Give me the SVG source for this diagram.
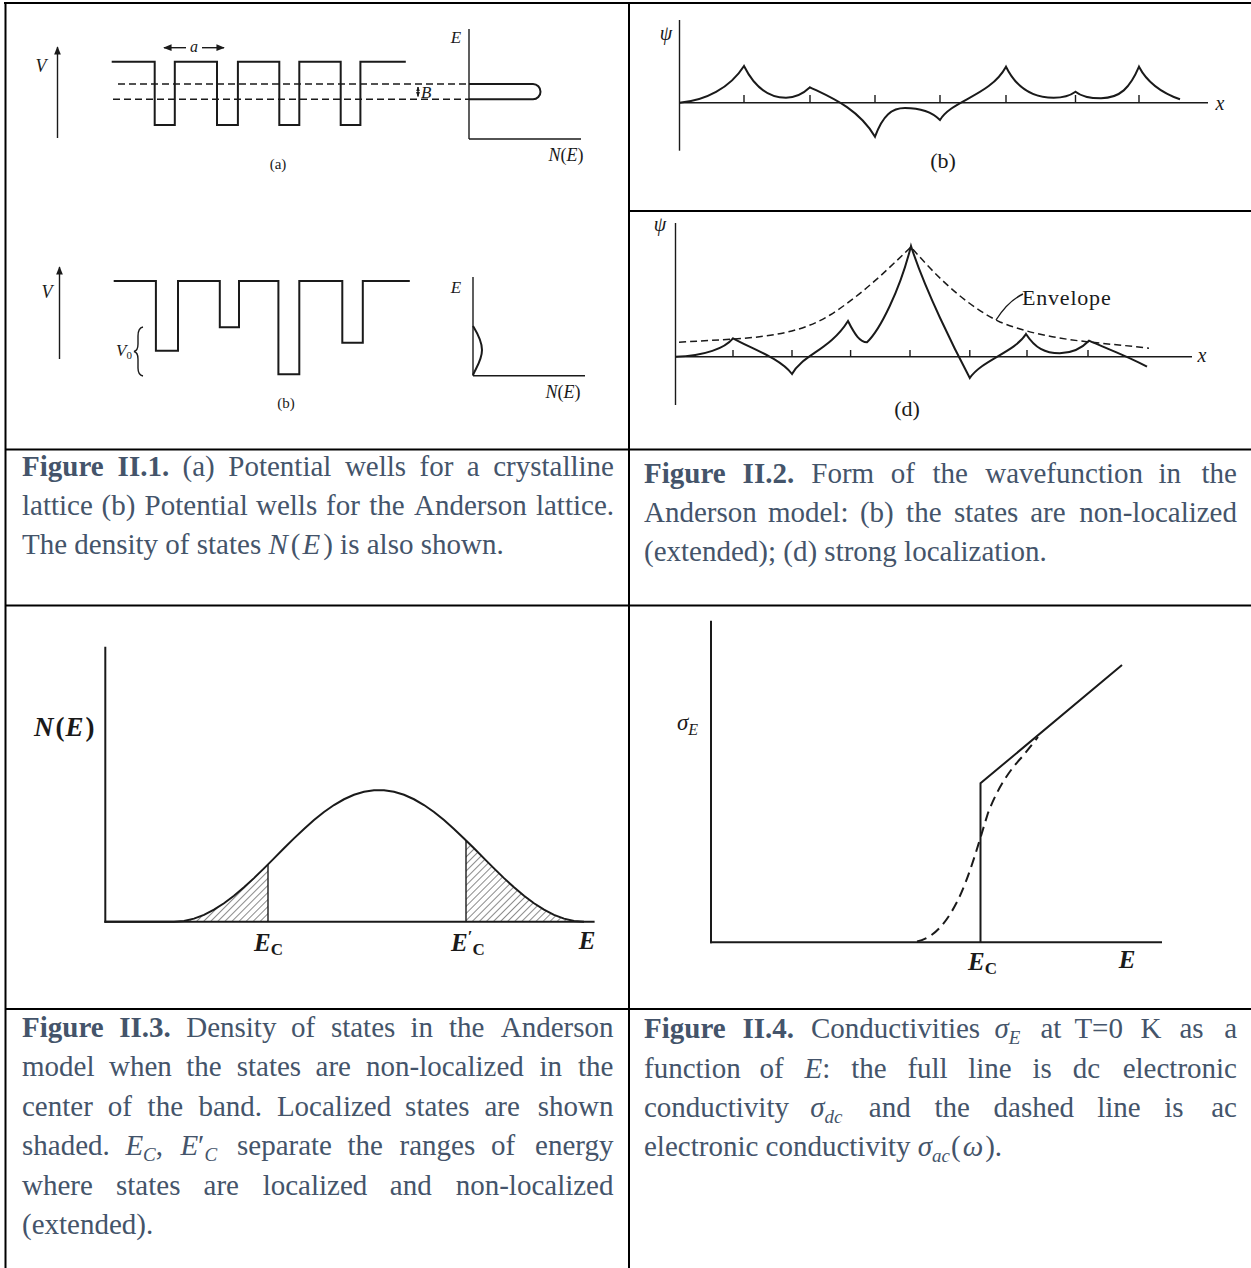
<svg xmlns="http://www.w3.org/2000/svg" width="1251" height="1268" viewBox="0 0 1251 1268">
<style>
.frame{stroke:#000;stroke-width:2;fill:none}
.ln{stroke:#1a1a1a;stroke-width:2;fill:none;stroke-linejoin:miter}
.thin{stroke:#1a1a1a;stroke-width:1.4;fill:none}
.dash{stroke:#1a1a1a;stroke-width:1.5;fill:none;stroke-dasharray:7 4}
.lbl{font-family:"Liberation Serif","Times New Roman",serif;fill:#1a1a1a}
.it{font-style:italic}
.cap{font-family:"Liberation Serif","Times New Roman",serif;font-size:29px;fill:#44546A}
.end{text-anchor:end}
.b{font-weight:bold}
.m{font-style:italic}
</style>
<defs>
<marker id="ah" viewBox="0 0 10 10" refX="9" refY="5" markerWidth="6" markerHeight="6" orient="auto"><path d="M0,1 L10,5 L0,9 z" fill="#1a1a1a"/></marker>
<marker id="ahs" viewBox="0 0 10 10" refX="9" refY="5" markerWidth="3.5" markerHeight="3.5" orient="auto-start-reverse"><path d="M0,1 L10,5 L0,9 z" fill="#1a1a1a"/></marker>
<pattern id="hatch" width="5" height="5" patternUnits="userSpaceOnUse" patternTransform="rotate(45)"><line x1="0" y1="0" x2="0" y2="5" stroke="#2a2a2a" stroke-width="1.1"/></pattern>
</defs>
<rect width="1251" height="1268" fill="#fff"/>

<g id="table-frame">
<line class="frame" x1="4" y1="3" x2="1251" y2="3"/>
<line class="frame" x1="5.5" y1="3" x2="5.5" y2="1268"/>
<line class="frame" x1="629" y1="3" x2="629" y2="1268"/>
<line class="frame" x1="629" y1="211" x2="1251" y2="211"/>
<line class="frame" x1="5" y1="449.5" x2="1251" y2="449.5"/>
<line class="frame" x1="5" y1="605.5" x2="1251" y2="605.5"/>
<line class="frame" x1="5" y1="1009" x2="1251" y2="1009"/>
</g>

<g id="fig1a">
<line class="thin" x1="57.5" y1="138" x2="57.5" y2="47" marker-end="url(#ah)"/>
<text class="lbl it" x="41" y="72" font-size="18" text-anchor="middle">V</text>
<line class="thin" x1="186" y1="47.7" x2="164" y2="47.7" marker-end="url(#ah)"/>
<line class="thin" x1="202" y1="47.7" x2="224" y2="47.7" marker-end="url(#ah)"/>
<text class="lbl it" x="194" y="52" font-size="16" text-anchor="middle">a</text>
<path class="ln" d="M111.7,61.7 H154.7 V125 H174.8 V61.7 H217 V125 H237.9 V61.7 H279.3 V125 H299.3 V61.7 H340.7 V125 H360.4 V61.7 H405.8"/>
<line class="dash" x1="118" y1="84" x2="469" y2="84"/>
<line class="dash" x1="113" y1="99.3" x2="469" y2="99.3"/>
<line class="thin" x1="418" y1="87" x2="418" y2="96.5" stroke-width="1" marker-start="url(#ahs)" marker-end="url(#ahs)"/>
<text class="lbl it" x="421" y="98" font-size="17">B</text>
<line class="thin" x1="469" y1="29" x2="469" y2="139"/>
<line class="thin" x1="469" y1="139" x2="581" y2="139"/>
<text class="lbl it" x="456" y="43" font-size="17" text-anchor="middle">E</text>
<text class="lbl" x="566" y="161" font-size="18" text-anchor="middle"><tspan class="it">N</tspan>(<tspan class="it">E</tspan>)</text>
<path class="ln" stroke-width="2.6" d="M469,84 H533 A7.5,7.65 0 0 1 533,99.3 H469"/>
<text class="lbl" x="278" y="169" font-size="15" text-anchor="middle">(a)</text>
</g>

<g id="fig1b">
<line class="thin" x1="59.5" y1="359" x2="59.5" y2="267" marker-end="url(#ah)"/>
<text class="lbl it" x="47" y="298" font-size="18" text-anchor="middle">V</text>
<path class="ln" d="M113.7,281 H155.9 V350.7 H178 V281 H219.8 V327.3 H239 V281 H278.4 V374.3 H299.3 V281 H342.3 V342.7 H362.8 V281 H409.8"/>
<text class="lbl it" x="116" y="356" font-size="17">V<tspan font-size="11" dy="3" font-style="normal">0</tspan></text>
<path class="thin" stroke-width="1.2" d="M143,327 Q138,328 138,336 L138,344 Q138,350.5 134,351.5 Q138,352.5 138,359 L138,368 Q138,375 143,376"/>
<line class="thin" x1="473" y1="277" x2="473" y2="375.7"/>
<line class="thin" x1="473" y1="375.7" x2="585" y2="375.7"/>
<text class="lbl it" x="456" y="293" font-size="17" text-anchor="middle">E</text>
<text class="lbl" x="563" y="398" font-size="18" text-anchor="middle"><tspan class="it">N</tspan>(<tspan class="it">E</tspan>)</text>
<path class="ln" d="M473,326 C476,331 482,340 482,350 C482,360 476,368 473,375"/>
<text class="lbl" x="286" y="408" font-size="15" text-anchor="middle">(b)</text>
</g>

<g id="fig2b">
<line class="thin" x1="679.5" y1="20" x2="679.5" y2="150.7"/>
<line class="thin" x1="679.5" y1="102.7" x2="1208" y2="102.7"/>
<path class="thin" d="M744,102.7 V95 M810,102.7 V95 M875,102.7 V95 M940,102.7 V95 M1006,102.7 V95 M1075.5,102.7 V95 M1139,102.7 V95"/>
<text class="lbl it" x="666" y="40" font-size="20" text-anchor="middle">ψ</text>
<text class="lbl it" x="1220" y="110" font-size="20" text-anchor="middle">x</text>
<path class="ln" stroke-width="2.4" d="M679.5,102.7 C705,101 730,88 744,66 C752,82 765,97.7 786,97.7 C796,97.7 804,93 810,87.3 C830,97 858,108 875,136.7 C883,115 892,108 905,108 C920,108 932,112 940,120 C952,100 990,96 1006,66.7 C1015,85 1030,97.7 1053.7,97.7 C1065,97.7 1071,95 1075.5,91.7 C1082,97 1092,98.3 1101,98.3 C1120,98 1130,88 1139,66.7 C1148,84 1165,94 1180,99.3"/>
<text class="lbl" x="943" y="168" font-size="22" text-anchor="middle">(b)</text>
</g>

<g id="fig2d">
<line class="thin" x1="675.5" y1="223" x2="675.5" y2="405"/>
<line class="thin" x1="675.5" y1="356.7" x2="1192" y2="356.7"/>
<path class="thin" d="M733,356.7 V350 M792,356.7 V350 M850.6,356.7 V350 M910,356.7 V350 M969.8,356.7 V350 M1027,356.7 V350 M1088,356.7 V350"/>
<text class="lbl it" x="660" y="231" font-size="20" text-anchor="middle">ψ</text>
<text class="lbl it" x="1202" y="362" font-size="20" text-anchor="middle">x</text>
<path class="dash" stroke-dasharray="8 5" d="M679,342.3 C740,338 790,340 830,315 C865,293 895,262 911,247 C935,275 965,305 1000,322 C1050,342 1100,342 1149,348.3"/>
<path class="ln" stroke-width="2.4" d="M675.5,356.7 C705,356 725,348 733,338.3 C750,348 780,358 792,374 C802,355 830,350 848,321 C855,335 860,342 867,342.3 C880,330 900,290 911,246 C925,290 955,350 969.8,378 C982,360 1015,352 1026,334 C1035,348 1045,353.3 1059.7,353.3 C1072,353 1082,348 1089,340.7 C1105,348 1125,355 1147,366.7"/>
<path class="thin" stroke-width="1.3" d="M1023,294 Q1008,301 996,320"/>
<text class="lbl" x="1022" y="305" font-size="22" letter-spacing="0.8">Envelope</text>
<text class="lbl" x="907" y="416" font-size="22" text-anchor="middle">(d)</text>
</g>

<g id="fig3">
<path fill="url(#hatch)" stroke="none" d="M174,921.7 L184,920.93 L194,918.63 L204,914.86 L214,909.71 L224,903.3 L234,895.77 L244,887.31 L254,878.12 L264,868.39 L268,864.4 L268,921.7 Z"/>
<path fill="url(#hatch)" stroke="none" d="M466,840.4 L474,848.3 L484,858.38 L494,868.39 L504,878.12 L514,887.31 L524,895.77 L534,903.3 L544,909.71 L554,914.86 L564,918.63 L574,920.93 L584,921.7 L466,921.7 Z"/>
<line class="ln" x1="105.3" y1="646.7" x2="105.3" y2="922.7"/>
<line class="ln" x1="104.3" y1="921.7" x2="594.6" y2="921.7"/>
<line class="thin" stroke-width="1.6" x1="268" y1="864.4" x2="268" y2="921.7"/>
<line class="thin" stroke-width="1.6" x1="466" y1="840.4" x2="466" y2="921.7"/>
<path class="ln" stroke-width="2.6" d="M105,921.7 L174,921.7 L184,920.93 L194,918.63 L204,914.86 L214,909.71 L224,903.3 L234,895.77 L244,887.31 L254,878.12 L264,868.39 L274,858.38 L284,848.3 L294,838.4 L304,828.91 L314,820.06 L324,812.03 L334,805.04 L344,799.26 L354,794.77 L364,791.73 L374,790.18 L384,790.18 L394,791.73 L404,794.77 L414,799.26 L424,805.04 L434,812.03 L444,820.06 L454,828.91 L464,838.4 L474,848.3 L484,858.38 L494,868.39 L504,878.12 L514,887.31 L524,895.77 L534,903.3 L544,909.71 L554,914.86 L564,918.63 L574,920.93 L584,921.7"/>
<text class="lbl b" x="34" y="736" font-size="27"><tspan class="it">N</tspan><tspan dx="2">(</tspan><tspan class="it" dx="1">E</tspan><tspan dx="2">)</tspan></text>
<text class="lbl b" x="254" y="951" font-size="25"><tspan class="it">E</tspan><tspan font-size="17" dy="4">C</tspan></text>
<text class="lbl b" x="451" y="951" font-size="25"><tspan class="it">E</tspan><tspan font-size="17" dy="-9">′</tspan><tspan font-size="17" dy="13">C</tspan></text>
<text class="lbl b it" x="587" y="949" font-size="25" text-anchor="middle">E</text>
</g>

<g id="fig4">
<line class="ln" x1="711" y1="620.7" x2="711" y2="943.3"/>
<line class="ln" x1="710" y1="942.3" x2="1162" y2="942.3"/>
<path class="ln" stroke-width="2.4" d="M980.5,942.3 V783.3 L1122,665"/>
<path class="ln" stroke-width="2.2" stroke-dasharray="10 6" d="M917,941.5 C935,938 948,920 958,900 C970,875 978,845 988,813 C995,795 1005,775 1022,757 L1038,737"/>
<text class="lbl it" x="677" y="730" font-size="23">σ<tspan font-size="16" dy="5">E</tspan></text>
<text class="lbl b" x="968" y="970" font-size="25"><tspan class="it">E</tspan><tspan font-size="17" dy="4">C</tspan></text>
<text class="lbl b it" x="1127" y="968" font-size="25" text-anchor="middle">E</text>
</g>

<g id="caption1">
<text class="cap" y="476"><tspan x="22" class="b">Figure</tspan><tspan x="117.6" class="b">II.1.</tspan><tspan x="182.6">(a)</tspan><tspan x="228.3">Potential</tspan><tspan x="344.9">wells</tspan><tspan x="419.6">for</tspan><tspan x="466.8">a</tspan></text>
<text class="cap end" x="614" y="476">crystalline</text>
<text class="cap" y="515"><tspan x="22">lattice</tspan><tspan x="101.5">(b)</tspan><tspan x="144.6">Potential</tspan><tspan x="256">wells</tspan><tspan x="326.1">for</tspan><tspan x="369.2">the</tspan><tspan x="414">Anderson</tspan></text>
<text class="cap end" x="614" y="515">lattice.</text>
<text class="cap" x="22" y="554">The density of states <tspan class="m">N</tspan><tspan dx="3">(</tspan><tspan class="m" dx="2">E</tspan><tspan dx="3">)</tspan> is also shown.</text>
</g>

<g id="caption2">
<text class="cap" y="483"><tspan x="644" class="b">Figure</tspan><tspan x="742.6" class="b">II.2.</tspan><tspan x="811.3">Form</tspan><tspan x="890.8">of</tspan><tspan x="932.5">the</tspan><tspan x="985.2">wavefunction</tspan><tspan x="1158.5">in</tspan></text>
<text class="cap end" x="1237" y="483">the</text>
<text class="cap" y="522"><tspan x="644">Anderson</tspan><tspan x="767.9">model:</tspan><tspan x="859.9">(b)</tspan><tspan x="906.1">the</tspan><tspan x="953.9">states</tspan><tspan x="1030.2">are</tspan></text>
<text class="cap end" x="1237" y="522">non-localized</text>
<text class="cap" x="644" y="561">(extended); (d) strong localization.</text>
</g>

<g id="caption3">
<text class="cap" y="1037"><tspan x="22" class="b">Figure</tspan><tspan x="119.2" class="b">II.3.</tspan><tspan x="186.2">Density</tspan><tspan x="290.9">of</tspan><tspan x="330.9">states</tspan><tspan x="410.4">in</tspan><tspan x="448.9">the</tspan></text>
<text class="cap end" x="613.5" y="1037">Anderson</text>
<text class="cap" y="1076"><tspan x="22">model</tspan><tspan x="109">when</tspan><tspan x="186.3">the</tspan><tspan x="236.7">states</tspan><tspan x="315.6">are</tspan><tspan x="366">non-localized</tspan><tspan x="539.5">in</tspan></text>
<text class="cap end" x="613.5" y="1076">the</text>
<text class="cap" y="1115.5"><tspan x="22">center</tspan><tspan x="107.8">of</tspan><tspan x="147.6">the</tspan><tspan x="198.5">band.</tspan><tspan x="276.9">Localized</tspan><tspan x="405.1">states</tspan><tspan x="484.4">are</tspan></text>
<text class="cap end" x="613.5" y="1115.5">shown</text>
<text class="cap" y="1155"><tspan x="22">shaded.</tspan><tspan x="125.4"><tspan class="m">E</tspan><tspan class="m" font-size="19" dy="6">C</tspan><tspan dy="-6">,</tspan></tspan><tspan x="180.4"><tspan class="m">E</tspan>′<tspan class="m" font-size="19" dy="6">C</tspan></tspan><tspan x="237" dy="-6">separate</tspan><tspan x="347.4">the</tspan><tspan x="399.5">ranges</tspan><tspan x="491.1">of</tspan></text>
<text class="cap end" x="613.5" y="1155">energy</text>
<text class="cap" y="1194.5"><tspan x="22">where</tspan><tspan x="116">states</tspan><tspan x="203.6">are</tspan><tspan x="262.7">localized</tspan><tspan x="389.8">and</tspan></text>
<text class="cap end" x="613.5" y="1194.5">non-localized</text>
<text class="cap" x="22" y="1234">(extended).</text>
</g>

<g id="caption4">
<text class="cap" y="1038"><tspan x="644" class="b">Figure</tspan><tspan x="742.5" class="b">II.4.</tspan><tspan x="811">Conductivities</tspan><tspan x="994.5"><tspan class="m">σ</tspan><tspan class="m" font-size="19" dy="6">E</tspan></tspan><tspan x="1040.4" dy="-6">at</tspan><tspan x="1074.4">T=0</tspan><tspan x="1140.4">K</tspan><tspan x="1179.5">as</tspan></text>
<text class="cap end" x="1237" y="1038">a</text>
<text class="cap" y="1077.5"><tspan x="644">function</tspan><tspan x="759.6">of</tspan><tspan x="804.6"><tspan class="m">E</tspan>:</tspan><tspan x="851.3">the</tspan><tspan x="907.4">full</tspan><tspan x="968.2">line</tspan><tspan x="1032.4">is</tspan><tspan x="1072.8">dc</tspan></text>
<text class="cap end" x="1237" y="1077.5">electronic</text>
<text class="cap" y="1117"><tspan x="644">conductivity</tspan><tspan x="810.2"><tspan class="m">σ</tspan><tspan class="m" font-size="19" dy="6">dc</tspan></tspan><tspan x="868.8" dy="-6">and</tspan><tspan x="934.4">the</tspan><tspan x="993.6">dashed</tspan><tspan x="1097.2">line</tspan><tspan x="1164.2">is</tspan></text>
<text class="cap end" x="1237" y="1117">ac</text>
<text class="cap" x="644" y="1156">electronic conductivity <tspan class="m">σ</tspan><tspan class="m" font-size="19" dy="6">ac</tspan><tspan dy="-6" dx="1">(</tspan><tspan class="m" dx="2">ω</tspan><tspan dx="2">).</tspan></text>
</g>
</svg>
